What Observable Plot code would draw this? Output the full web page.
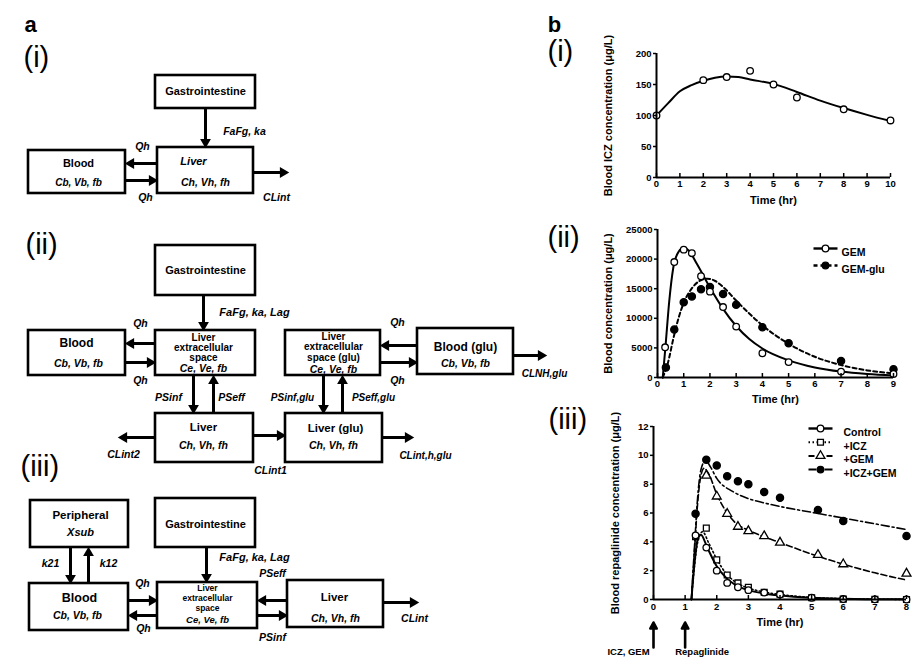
<!DOCTYPE html>
<html><head><meta charset="utf-8">
<script src="https://cdn.jsdelivr.net/npm/d3@7"></script>
<script src="https://cdn.jsdelivr.net/npm/@observablehq/plot@0.6"></script>
<style>
body{margin:0;background:#fff;}
#root{position:relative;width:919px;height:662px;overflow:hidden;background:#fff;}
</style></head><body><div id="root"></div>
<script>
const FONT = '"Liberation Sans", Arial, Helvetica, sans-serif';

// ---------------- Panel a: compartment diagrams (pixel space) ----------------
const boxes = [
  {x1:155,y1:75,x2:255,y2:108},{x1:28,y1:150,x2:125,y2:193},{x1:157,y1:147,x2:253,y2:193},
  {x1:155,y1:245,x2:255,y2:295},{x1:28,y1:330,x2:125,y2:375},{x1:155,y1:330,x2:255,y2:375},
  {x1:285,y1:330,x2:380,y2:375},{x1:417,y1:328,x2:513,y2:374},{x1:155,y1:413,x2:253,y2:462},
  {x1:285,y1:413,x2:382,y2:462},{x1:30,y1:500,x2:128,y2:547},{x1:155,y1:498,x2:255,y2:547},
  {x1:29,y1:583,x2:128,y2:630},{x1:157,y1:582,x2:257,y2:628},{x1:287,y1:580,x2:383,y2:627}
];
const boxTitles = [
  {x:205,y:91,text:"Gastrointestine",size:11},{x:78,y:163,text:"Blood",size:11},
  {x:205,y:270,text:"Gastrointestine",size:11},{x:76,y:343,text:"Blood",size:12},
  {x:203,y:337,text:"Liver",size:10},{x:203,y:347,text:"extracellular",size:10},{x:203,y:357,text:"space",size:10},
  {x:333,y:336,text:"Liver",size:10},{x:333,y:346,text:"extracellular",size:10},{x:333,y:357,text:"space (glu)",size:10},
  {x:465,y:347,text:"Blood (glu)",size:12},{x:203,y:427,text:"Liver",size:11.5},{x:335,y:428,text:"Liver (glu)",size:11.5},
  {x:80,y:515,text:"Peripheral",size:11.5},{x:205,y:524,text:"Gastrointestine",size:11},{x:79,y:597,text:"Blood",size:12.5},
  {x:207,y:588,text:"Liver",size:8.5},{x:207,y:598,text:"extracellular",size:8.5},{x:207,y:608,text:"space",size:8.5},
  {x:334,y:597,text:"Liver",size:11.5}
];
const paramLabels = [
  {x:193,y:161,text:"Liver",size:11},{x:78,y:182,text:"Cb, Vb, fb",size:10},{x:205,y:182,text:"Ch, Vh, fh",size:10.5},
  {x:244,y:131,text:"FaFg, ka",size:10.5},{x:142,y:146,text:"Qh",size:10.5},{x:145,y:197,text:"Qh",size:10.5},
  {x:276,y:197,text:"CLint",size:10.5},
  {x:254,y:312,text:"FaFg, ka, Lag",size:11},{x:140,y:323,text:"Qh",size:10.5},{x:140,y:380,text:"Qh",size:10.5},
  {x:78,y:363,text:"Cb, Vb, fb",size:10.5},{x:203,y:368,text:"Ce, Ve, fb",size:10.5},
  {x:168,y:397,text:"PSinf",size:10.5},{x:231,y:397,text:"PSeff",size:10.5},
  {x:292,y:397,text:"PSinf,glu",size:10},{x:373,y:397,text:"PSeff,glu",size:10},
  {x:333,y:369,text:"Ce, Ve, fb",size:10.5},{x:397,y:322,text:"Qh",size:10.5},{x:397,y:380,text:"Qh",size:10.5},
  {x:465,y:363,text:"Cb, Vb, fb",size:10.5},{x:544,y:373,text:"CLNH,glu",size:10},
  {x:203,y:445,text:"Ch, Vh, fh",size:10.5},{x:123,y:454,text:"CLint2",size:10.5},{x:270,y:470,text:"CLint1",size:10.5},
  {x:333,y:445,text:"Ch, Vh, fh",size:10.5},{x:425,y:455,text:"CLint,h,glu",size:10},
  {x:80,y:532,text:"Xsub",size:11},{x:254,y:557,text:"FaFg, ka, Lag",size:11},
  {x:50,y:563,text:"k21",size:10.5},{x:108,y:563,text:"k12",size:10.5},{x:272,y:573,text:"PSeff",size:10.5},
  {x:142,y:583,text:"Qh",size:10.5},{x:143,y:628,text:"Qh",size:10.5},{x:77,y:615,text:"Cb, Vb, fb",size:10.5},
  {x:207,y:619,text:"Ce, Ve, fb",size:9.5},{x:272,y:637,text:"PSinf",size:10.5},
  {x:335,y:618,text:"Ch, Vh, fh",size:10.5},{x:414,y:618,text:"CLint",size:10.5}
];
const flowArrows = [
  {x1:205,y1:108,x2:205,y2:147},{x1:157,y1:163,x2:125,y2:163},{x1:125,y1:180,x2:157,y2:180},{x1:253,y1:172,x2:288,y2:172},
  {x1:203,y1:295,x2:203,y2:330},{x1:155,y1:343,x2:125,y2:343},{x1:125,y1:362,x2:155,y2:362},
  {x1:193,y1:375,x2:193,y2:413},{x1:213,y1:413,x2:213,y2:375},{x1:417,y1:345,x2:380,y2:345},
  {x1:380,y1:362,x2:417,y2:362},{x1:513,y1:355,x2:546,y2:355},{x1:323,y1:375,x2:323,y2:413},
  {x1:342,y1:413,x2:342,y2:375},{x1:155,y1:437,x2:118,y2:437},{x1:253,y1:435,x2:285,y2:435},
  {x1:382,y1:437,x2:413,y2:437},
  {x1:206,y1:547,x2:206,y2:582},{x1:70,y1:547,x2:70,y2:583},{x1:88,y1:583,x2:88,y2:547},
  {x1:128,y1:600,x2:157,y2:600},{x1:157,y1:615,x2:128,y2:615},{x1:287,y1:600,x2:257,y2:600},
  {x1:257,y1:615,x2:287,y2:615},{x1:383,y1:602,x2:418,y2:602}
];
const panelLetters = [{x:30,y:24,text:"a"},{x:554,y:24,text:"b"}];
const panelNumerals = [
  {x:23,y:57,text:"(i)"},{x:25,y:244,text:"(ii)"},{x:20,y:466,text:"(iii)"},
  {x:547,y:51,text:"(i)"},{x:547,y:237,text:"(ii)"},{x:548,y:419,text:"(iii)"}
];

// ---------------- Panel b(i): ICZ ----------------
const iczTimes = [0,2,3,4,5,6,8,10];
const iczObserved = [100,157,162,172,150,129,110,92];
const iczFitTimes = [0,0.5,1,1.5,2,2.5,3,3.5,4,5,6,7,8,9,10];
const iczFit = [100,120,139,149,156,161,163,162,158,151,138,124,112,101,91];
const iczXTicks = [0,1,2,3,4,5,6,7,8,9,10];
const iczYTicks = [0,50,100,150,200];

// ---------------- Panel b(ii): GEM ----------------
const gemTimes = [0.29,0.64,1.0,1.31,1.66,2.0,2.5,3.0,4.0,5.0,7.0,9.0];
const gemObserved = [5100,19500,21600,21000,17100,14500,11900,8600,4100,2600,1000,600];
const gluTimes = [0.32,0.64,1.0,1.31,1.66,2.0,2.5,3.0,4.0,5.0,7.0,9.0];
const gluObserved = [1700,8100,12700,13700,14900,15300,14100,12300,8500,5800,2800,1400];
const gemFitTimes = [0.2,0.3,0.45,0.6,0.8,1.0,1.2,1.5,2,2.5,3,3.5,4,5,6,7,8,9];
const gemFit = [0,5000,13000,18500,21200,21900,21400,19200,15200,11600,8700,6500,4900,2900,1700,1000,600,350];
const gluFitTimes = [0.2,0.4,0.6,0.8,1.0,1.3,1.6,1.9,2.2,2.5,3,3.5,4,5,6,7,8,9];
const gluFit = [0,2500,6500,10000,12600,15000,16300,16700,16300,15300,13000,10800,8800,5700,3500,2100,1200,700];
const gemXTicks = [0,1,2,3,4,5,6,7,8,9];
const gemYTicks = [0,5000,10000,15000,20000,25000];
const gemSeries = ["GEM","GEM-glu"];

// ---------------- Panel b(iii): repaglinide ----------------
const repTimes = [1.33,1.67,2,2.33,2.67,3,3.5,4,5,6,7,8];
const ctrlObserved = [4.45,3.6,2.0,1.15,0.85,0.65,0.48,0.35,0.12,0.03,0.01,0];
const plusIczObserved = [4.35,4.95,2.75,1.7,1.15,0.85,0.5,0.37,0.12,0.03,0.01,0];
const gemRepTimes = [1.67,2,2.33,2.67,3,3.5,4,5.2,6,8];
const plusGemObserved = [8.6,7.15,5.95,5.05,4.75,4.4,3.95,3.1,2.45,1.8];
const bothTimes = [1.33,1.67,2,2.33,2.67,3,3.5,4,5.2,6,8];
const plusBothObserved = [5.95,9.7,9.3,8.55,8.2,8.0,7.45,7.05,6.2,5.45,4.4];
const ctrlFitTimes = [1.2,1.3,1.4,1.5,1.7,2,2.3,2.6,3,3.5,4,5,6,7,8];
const ctrlFit = [0,2.6,4.2,4.5,3.6,2.3,1.5,1.0,0.65,0.42,0.28,0.12,0.05,0.02,0.01];
const plusIczFitTimes = [1.2,1.3,1.4,1.55,1.75,2,2.3,2.6,3,3.5,4,5,6,7,8];
const plusIczFit = [0,2.4,4.0,4.7,3.9,2.8,1.8,1.2,0.8,0.52,0.35,0.14,0.06,0.02,0.01];
const plusGemFitTimes = [1.2,1.3,1.4,1.5,1.6,1.75,2,2.3,2.6,3,3.5,4,5,6,7,8];
const plusGemFit = [0,3.5,6.8,8.6,9.1,8.7,7.3,6.1,5.3,4.8,4.35,3.95,3.15,2.45,1.85,1.35];
const plusBothFitTimes = [1.2,1.3,1.4,1.5,1.65,1.8,2,2.5,3,3.5,4,5,6,7,8];
const plusBothFit = [0,3.8,7.2,9.0,9.65,9.2,8.4,7.5,7.0,6.7,6.45,6.05,5.65,5.25,4.85];
const repXTicks = [0,1,2,3,4,5,6,7,8];
const repYTicks = [0,2,4,6,8,10,12];
const repSeries = ["Control","+ICZ","+GEM","+ICZ+GEM"];
const doseTimes = [0,1];
const doseLabels = ["ICZ, GEM","Repaglinide"];

// ---------------- styles ----------------
const seriesStyle = {
  "GEM": {dash: null, symbol: "circle", fill: "white", width: 2},
  "GEM-glu": {dash: "4,3", symbol: "circle", fill: "black", width: 2},
  "Control": {dash: null, symbol: "circle", fill: "white", width: 2},
  "+ICZ": {dash: "1.5,2.5", symbol: "square", fill: "white", width: 1.6},
  "+GEM": {dash: "6,3", symbol: "triangle", fill: "white", width: 1.6},
  "+ICZ+GEM": {dash: "8,3,2,3", symbol: "circle", fill: "black", width: 1.6}
};
const zip = (ts, vs) => ts.map((t, i) => ({t, v: vs[i]}));
const root = document.getElementById("root");
function place(svg, left, top) {
  svg.style.position = "absolute";
  svg.style.left = left + "px";
  svg.style.top = top + "px";
  root.appendChild(svg);
}

// ---------------- draw panel a ----------------
const HEAD = 5.5;
const dirOf = d => { const L = Math.hypot(d.x2 - d.x1, d.y2 - d.y1); return [(d.x2 - d.x1) / L, (d.y2 - d.y1) / L]; };
const diagram = Plot.plot({
  width: 919, height: 662, margin: 0,
  x: {domain: [0, 919], range: [0, 919], axis: null},
  y: {domain: [0, 662], range: [0, 662], axis: null},
  style: {fontFamily: FONT, background: "transparent", color: "black", overflow: "visible"},
  marks: [
    Plot.rect(boxes, {x1: "x1", y1: "y1", x2: "x2", y2: "y2", fill: "white", stroke: "black", strokeWidth: 2.6}),
    Plot.link(flowArrows, {x1: "x1", y1: "y1", x2: d => d.x2 - dirOf(d)[0] * HEAD, y2: d => d.y2 - dirOf(d)[1] * HEAD, stroke: "black", strokeWidth: 3}),
    Plot.dot(flowArrows, {x: d => d.x2 - dirOf(d)[0] * HEAD, y: d => d.y2 - dirOf(d)[1] * HEAD, symbol: "triangle", r: 4, fill: "black", stroke: "none",
      rotate: d => Math.atan2(d.x2 - d.x1, -(d.y2 - d.y1)) * 180 / Math.PI}),
    Plot.text(boxTitles, {x: "x", y: "y", text: "text", fontSize: d => d.size, fontWeight: "bold", fill: "black"}),
    Plot.text(paramLabels, {x: "x", y: "y", text: "text", fontSize: d => d.size, fontWeight: "bold", fontStyle: "italic", fill: "black"}),
    Plot.text(panelLetters, {x: "x", y: "y", text: "text", fontSize: 22, fontWeight: "bold", fill: "black"}),
    Plot.text(panelNumerals, {x: "x", y: "y", text: "text", fontSize: 29, textAnchor: "start", fill: "black"})
  ]
});
place(diagram, 0, 0);

// ---------------- chart helper ----------------
function legendMarks(names, {dxLine, dxText, dy0, step}) {
  const marks = [];
  const seg = {draw(ctx, l) { ctx.moveTo(0, 0); ctx.lineTo(0, -l); }};
  names.forEach((name, i) => {
    const s = seriesStyle[name];
    const dy = dy0 + i * step;
    marks.push(Plot.vector([name], {frameAnchor: "top-left", dx: dxLine, dy, length: 24, rotate: 90, anchor: "start",
      shape: seg, stroke: "black", strokeWidth: s.width + 0.4, strokeDasharray: s.dash, strokeLinecap: "butt"}));
    marks.push(Plot.dot([name], {frameAnchor: "top-left", dx: dxLine + 12, dy, r: 3.3, symbol: s.symbol, fill: s.fill, stroke: "black", strokeWidth: 1.3}));
    marks.push(Plot.text([name], {frameAnchor: "top-left", dx: dxText, dy, textAnchor: "start", fontSize: 10.5}));
  });
  return marks;
}
function seriesMarks(name, fitPts, obsPts) {
  const s = seriesStyle[name];
  return [
    Plot.line(fitPts, {x: "t", y: "v", curve: "monotone-x", stroke: "black", strokeWidth: s.width, strokeDasharray: s.dash}),
    Plot.dot(obsPts, {x: "t", y: "v", r: s.fill === "black" ? 3.6 : 3.3, symbol: s.symbol, fill: s.fill, stroke: "black", strokeWidth: 1.3})
  ];
}
function chart({left, top, width, height, margins, xDomain, yDomain, xTicks, yTicks, yLabel, xLabel, yLabelDx, xLabelDy, xPad, marks}) {
  const svg = Plot.plot({
    width, height, ...margins,
    x: {domain: xDomain}, y: {domain: yDomain},
    style: {fontFamily: FONT, fontWeight: "bold", fontSize: "9.5px", background: "transparent", color: "black", overflow: "visible"},
    marks: [
      ...marks,
      Plot.ruleY([0], {stroke: "black", strokeWidth: 2}),
      Plot.ruleX([0], {stroke: "black", strokeWidth: 2}),
      Plot.ruleX(xTicks, {x: d => d, y1: 0, y2: 0, insetTop: -4, stroke: "black", strokeWidth: 1.5}),
      Plot.axisX({ticks: xTicks, tickSize: 0, tickPadding: xPad, label: null, tickFormat: d => String(d)}),
      Plot.axisY({ticks: yTicks, tickSize: 3, tickPadding: 2, label: null, tickFormat: d => String(d), strokeWidth: 1.5}),
      Plot.text([yLabel], {frameAnchor: "left", textAnchor: "middle", rotate: -90, dx: -yLabelDx, fontSize: 11}),
      Plot.text([xLabel], {frameAnchor: "bottom", textAnchor: "middle", dy: xLabelDy, fontSize: 11})
    ]
  });
  place(svg, left, top);
}

// b(i)
chart({
  left: 600, top: 30, width: 319, height: 185,
  margins: {marginLeft: 56, marginRight: 29, marginTop: 23, marginBottom: 38},
  xDomain: [0, 10], yDomain: [0, 200], xTicks: iczXTicks, yTicks: iczYTicks,
  yLabel: "Blood ICZ concentration (μg/L)", xLabel: "Time (hr)", yLabelDx: 48, xLabelDy: 26, xPad: 3,
  marks: [
    Plot.line(zip(iczFitTimes, iczFit), {x: "t", y: "v", curve: "monotone-x", stroke: "black", strokeWidth: 2}),
    Plot.dot(zip(iczTimes, iczObserved), {x: "t", y: "v", r: 3.3, fill: "white", stroke: "black", strokeWidth: 1.3})
  ]
});

// b(ii)
chart({
  left: 600, top: 210, width: 319, height: 200,
  margins: {marginLeft: 57, marginRight: 26, marginTop: 19, marginBottom: 33},
  xDomain: [0, 9], yDomain: [0, 25000], xTicks: gemXTicks, yTicks: gemYTicks,
  yLabel: "Blood concentration (μg/L)", xLabel: "Time (hr)", yLabelDx: 49, xLabelDy: 25, xPad: 3,
  marks: [
    ...seriesMarks("GEM-glu", zip(gluFitTimes, gluFit), zip(gluTimes, gluObserved)),
    ...seriesMarks("GEM", zip(gemFitTimes, gemFit), zip(gemTimes, gemObserved)),
    ...legendMarks(gemSeries, {dxLine: 156, dxText: 184, dy0: 19, step: 17})
  ]
});

// b(iii)
const arrowShape = {draw(ctx, l) { const h = 6, w = 3.2; ctx.moveTo(0, 0); ctx.lineTo(0, -l + h); ctx.moveTo(-w, -l + h); ctx.lineTo(0, -l); ctx.lineTo(w, -l + h); ctx.closePath(); }};
chart({
  left: 600, top: 410, width: 319, height: 252,
  margins: {marginLeft: 53, marginRight: 13, marginTop: 16, marginBottom: 63},
  xDomain: [0, 8], yDomain: [0, 12], xTicks: repXTicks, yTicks: repYTicks,
  yLabel: "Blood repaglinide concentration (μg/L)", xLabel: "Time (hr)", yLabelDx: 38, xLabelDy: 26, xPad: 4,
  marks: [
    ...seriesMarks("+ICZ+GEM", zip(plusBothFitTimes, plusBothFit), zip(bothTimes, plusBothObserved)),
    ...seriesMarks("+GEM", zip(plusGemFitTimes, plusGemFit), zip(gemRepTimes, plusGemObserved)),
    ...seriesMarks("+ICZ", zip(plusIczFitTimes, plusIczFit), zip(repTimes, plusIczObserved)),
    ...seriesMarks("Control", zip(ctrlFitTimes, ctrlFit), zip(repTimes, ctrlObserved)),
    ...legendMarks(repSeries, {dxLine: 155, dxText: 190, dy0: 2, step: 13.7}),
    Plot.vector(doseTimes, {x: d => d, frameAnchor: "bottom", dy: 48, length: 25, rotate: 0, anchor: "start",
      shape: arrowShape, fill: "black", stroke: "black", strokeWidth: 2.6}),
    Plot.text([doseLabels[0]], {x: () => doseTimes[0], frameAnchor: "bottom", textAnchor: "middle", dy: 55, dx: -25, fontSize: 9.5}),
    Plot.text([doseLabels[1]], {x: () => doseTimes[1], frameAnchor: "bottom", textAnchor: "middle", dy: 55, dx: 17, fontSize: 9.5})
  ]
});
</script></body></html>
